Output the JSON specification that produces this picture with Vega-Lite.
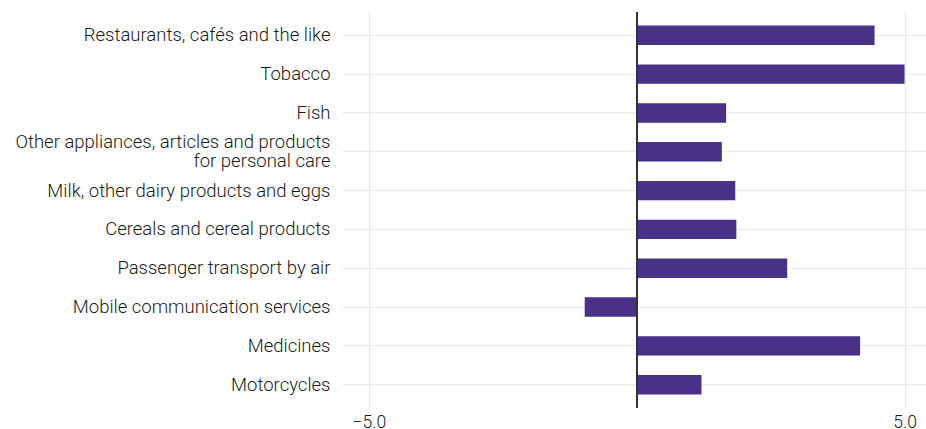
{
  "$schema": "https://vega.github.io/schema/vega-lite/v6.json",
  "width": 584,
  "height": 396,
  "autosize": {"type": "none"},
  "padding": {"left": 342, "top": 12, "right": 0, "bottom": 21},
  "background": "white",
  "config": {
    "view": {"stroke": null},
    "font": "Roboto",
    "axis": {"labelFont": "Roboto", "domain": false, "ticks": false, "gridColor": "#ebebeb", "gridWidth": 1}
  },
  "data": {
    "values": [
      {"category": "Restaurants, cafés and the like", "value": 4.44},
      {"category": "Tobacco", "value": 5.0},
      {"category": "Fish", "value": 1.67},
      {"category": "Other appliances, articles and products for personal care", "value": 1.59},
      {"category": "Milk, other dairy products and eggs", "value": 1.84},
      {"category": "Cereals and cereal products", "value": 1.86},
      {"category": "Passenger transport by air", "value": 2.81},
      {"category": "Mobile communication services", "value": -0.97},
      {"category": "Medicines", "value": 4.17},
      {"category": "Motorcycles", "value": 1.21}
    ]
  },
  "layer": [
    {
      "mark": {"type": "bar", "color": "#4a3188"},
      "encoding": {
        "y": {
          "field": "category",
          "type": "nominal",
          "sort": null,
          "title": null,
          "scale": {"paddingInner": 0.5, "paddingOuter": 0.35},
          "axis": {
            "bandPosition": 0.5,
            "grid": true,
            "labelFontSize": 18.5,
            "labelFontWeight": 300,
            "labelColor": "#1a1a1a",
            "labelPadding": 12,
            "labelLimit": 400,
            "labelLineHeight": 19,
            "labelExpr": "datum.label == 'Other appliances, articles and products for personal care' ? ['Other appliances, articles and products', 'for personal care'] : datum.label",
            "labelOffset": {
              "condition": {"test": "datum.value == 'Other appliances, articles and products for personal care'", "value": -9.5},
              "value": 0
            }
          }
        },
        "x": {
          "field": "value",
          "type": "quantitative",
          "title": null,
          "scale": {"domain": [-5.5, 5.4], "nice": false, "zero": false},
          "axis": {
            "values": [-5, 5],
            "format": ".1f",
            "grid": true,
            "labelFontSize": 17.5,
            "labelFontWeight": 300,
            "labelColor": "#1a1a1a",
            "labelPadding": 5
          }
        }
      }
    },
    {
      "mark": {"type": "rule", "color": "#333333", "strokeWidth": 1.3},
      "encoding": {"x": {"datum": 0}}
    }
  ]
}
